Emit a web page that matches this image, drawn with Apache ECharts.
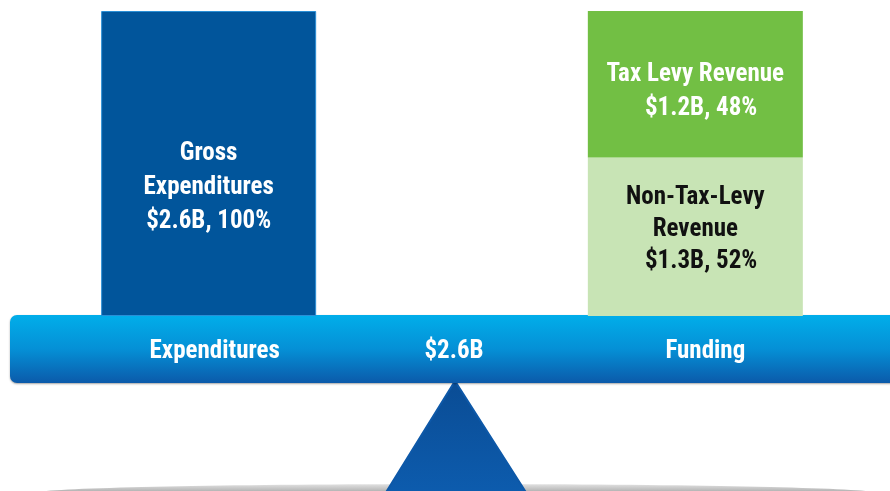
<!DOCTYPE html>
<html>
<head>
<meta charset="utf-8">
<script src="https://cdn.jsdelivr.net/npm/echarts@6/dist/echarts.min.js"></script>
<style>
  html, body { margin: 0; padding: 0; background: #fff; }
  #chart { width: 890px; height: 491px; }
</style>
</head>
<body>
<div id="chart"></div>
<script>
// beam labels (category axis)
const categories = ['Expenditures', '$2.6B', 'Funding']
// percent of the $2.6B total
const grossExp = [100, null, null]
const nonTaxLevy = [null, null, 52]
const taxLevy = [null, null, 48]
const barLabels = {
  gross: 'Gross\nExpenditures\n$2.6B, 100%',
  nonTax: 'Non-Tax-Levy\nRevenue\n  $1.3B, 52%',
  tax: 'Tax Levy Revenue\n  $1.2B, 48%'
}

const font = '"Roboto Condensed", "DejaVu Sans Condensed", Roboto, sans-serif'
const fs = 25
const beamStyle = { color: '#fff', fontFamily: font, fontWeight: 'bold', fontSize: fs }

const chart = echarts.init(document.getElementById('chart'))

const option = {
  animation: false,
  grid: { left: 87, width: 730, top: 11, bottom: 175 },
  xAxis: {
    type: 'category',
    data: categories,
    z: 10,
    axisLine: { show: false },
    axisTick: { show: false },
    axisLabel: {
      margin: 23,
      formatter: (v, i) => '{c' + i + '|' + v + '}',
      rich: {
        c0: Object.assign({ padding: [0, 0, 0, 12] }, beamStyle),
        c1: Object.assign({ padding: [0, 0, 0, 4] }, beamStyle),
        c2: Object.assign({ padding: [0, 0, 0, 20] }, beamStyle)
      }
    }
  },
  yAxis: { type: 'value', min: 0, max: 100, show: false },
  graphic: [
    // ground
    {
      type: 'ellipse', z: 0,
      shape: { cx: 456, cy: 493, rx: 420, ry: 9 },
      style: {
        fill: { type: 'linear', x: 0, y: 0, x2: 0, y2: 1,
          colorStops: [{ offset: 0, color: '#e2e2e2' }, { offset: 0.5, color: '#a8a8a8' }, { offset: 1, color: '#7a7a7a' }] }
      }
    },
    // fulcrum
    {
      type: 'polygon', z: 1,
      shape: { points: [[455, 381], [527, 494], [385, 494]] },
      style: {
        fill: { type: 'linear', x: 0, y: 0, x2: 0, y2: 1,
          colorStops: [{ offset: 0, color: '#0a4c94' }, { offset: 1, color: '#0d5cae' }] },
        lineJoin: 'round', stroke: '#0d58a8', lineWidth: 2
      }
    },
    // beam
    {
      type: 'rect', z: 2,
      shape: { x: 10, y: 315, width: 900, height: 68, r: 7 },
      style: {
        fill: { type: 'linear', x: 0, y: 0, x2: 0, y2: 1,
          colorStops: [{ offset: 0, color: '#01aeea' }, { offset: 0.5, color: '#0590d6' }, { offset: 1, color: '#0b5aaa' }] },
        shadowBlur: 2, shadowColor: 'rgba(0,0,0,0.35)', shadowOffsetY: 1
      }
    }
  ],
  series: [
    {
      type: 'bar',
      name: 'Gross Expenditures',
      data: grossExp,
      stack: 'a',
      barWidth: 215,
      itemStyle: { color: '#01559b', borderColor: '#2a8fd6', borderWidth: 1 },
      label: {
        show: true, position: 'insideTop', distance: 126,
        formatter: barLabels.gross,
        color: '#fff', fontFamily: font, fontWeight: 'bold', fontSize: fs, lineHeight: 34
      }
    },
    {
      type: 'bar',
      name: 'Non-Tax-Levy Revenue',
      data: nonTaxLevy,
      stack: 'a',
      barWidth: 215,
      itemStyle: { color: '#c8e4b5' },
      label: {
        show: true, position: 'insideTop', distance: 24,
        formatter: barLabels.nonTax,
        color: '#111', fontFamily: font, fontWeight: 'bold', fontSize: fs, lineHeight: 32
      }
    },
    {
      type: 'bar',
      name: 'Tax Levy Revenue',
      data: taxLevy,
      stack: 'a',
      barWidth: 215,
      itemStyle: { color: '#72bf44' },
      label: {
        show: true, position: 'insideTop', distance: 47,
        formatter: barLabels.tax,
        color: '#fff', fontFamily: font, fontWeight: 'bold', fontSize: fs, lineHeight: 34
      }
    }
  ]
}

chart.setOption(option)
</script>
</body>
</html>
